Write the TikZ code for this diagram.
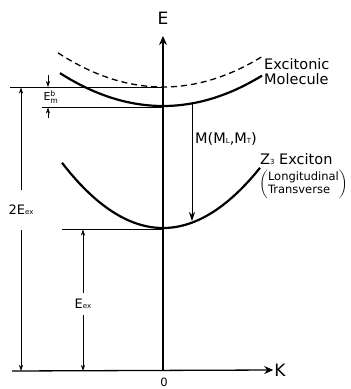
\documentclass[tikz,border=0pt]{standalone}
\usepackage{fontspec}
\usepackage{amsmath}
\setmainfont{DejaVu Sans}
\usetikzlibrary{arrows.meta}

\newcommand{\lowsub}[1]{{\fontsize{7}{7}\selectfont #1}}

\begin{document}
\begin{tikzpicture}[x=1pt, y=-1pt,
  axis/.style={-{Stealth[length=9pt,width=8pt]}, line width=1.3pt},
  band/.style={line width=2.2pt},
  molband/.style={line width=1.3pt, dash pattern=on 6pt off 4pt},
  level/.style={line width=0.5pt},
  dim/.style={-{Stealth[length=6pt,width=4pt]}, line width=0.5pt},
  trans/.style={-{Stealth[length=9pt,width=6pt]}, line width=1pt},
  axlbl/.style={font=\fontsize{17}{18}\selectfont, inner sep=1pt},
  lbl/.style={font=\fontsize{14.5}{15}\selectfont, inner sep=1pt, align=left},
  smalllbl/.style={font=\fontsize{11.5}{12.5}\selectfont, inner sep=1pt}
]
\useasboundingbox (0,0) rectangle (351,389);

% axes
\coordinate (O)    at (163,371);
\coordinate (Etip) at (163,36);
\coordinate (Kl)   at (12,371);
\node[axlbl] (nE) at (163,18) {E};
\node[axlbl] (nK) at (280,370) {K};
\node[smalllbl] (n0) at (164,382) {0};
\draw[axis] (O) -- (Etip);
\draw[axis] (Kl) -- (nK.west);

% dispersion curves
\draw[molband] plot[domain=-105:99, samples=60] ({163+\x},{87-0.0031*\x*\x});
\draw[band] plot[domain=-103:99, samples=60] ({163+\x},{106-0.0031*\x*\x});
\draw[band] plot[domain=-101:97, samples=60] ({163+\x},{228-0.0064*\x*\x});

% energy levels
\coordinate (ltop)  at (10,87);
\coordinate (rtop)  at (163,87);
\coordinate (lmol)  at (42,107);
\coordinate (rmol)  at (163,107);
\coordinate (lex)   at (62,229);
\coordinate (rex)   at (163,229);
\draw[level] (ltop) -- (rtop);
\draw[level] (lmol) -- (rmol);
\draw[level] (lex) -- (rex);

% binding energy
\node[inner sep=0pt] (nEb) at (51,97) {\fontsize{11}{11}\selectfont E$^{\text{b}}_{\text{m}}$};
\coordinate (ebtop) at (48,75);
\coordinate (ebbot) at (48,118);
\draw[dim] (ebtop) -- (48,87);
\draw[dim] (ebbot) -- (48,107.5);

% 2E_ex and E_ex
\node[inner sep=0pt, minimum height=40pt, font=\fontsize{13}{13}\selectfont] (n2E) at (21,210) {2E\lowsub{ex}};
\draw[dim] (n2E.north) -- (21,87.5);
\draw[dim] (n2E.south) -- (21,371);
\node[inner sep=0pt, minimum height=22pt, font=\fontsize{13}{13}\selectfont] (nEex) at (83,304) {E\lowsub{ex}};
\draw[dim] (nEex.north) -- (83,229.5);
\draw[dim] (nEex.south) -- (83,371);

% transition
\coordinate (mstart) at (192,104);
\coordinate (mend)   at (192,221);
\draw[trans] (mstart) -- (mend);
\node[lbl, anchor=west] (nM) at (194,139) {M(M\lowsub{L},M\lowsub{T})};

% labels
\node[lbl, anchor=west] (nmol) at (263,72) {Excitonic\\Molecule};
\node[lbl, anchor=west] (nZ) at (259,159) {Z\lowsub{3} Exciton};
\node[smalllbl, anchor=north west] (npol) at (258,169)
  {$\left(\begin{tabular}{@{}l@{}}Longitudinal\\Transverse\end{tabular}\right)$};
\end{tikzpicture}
\end{document}
